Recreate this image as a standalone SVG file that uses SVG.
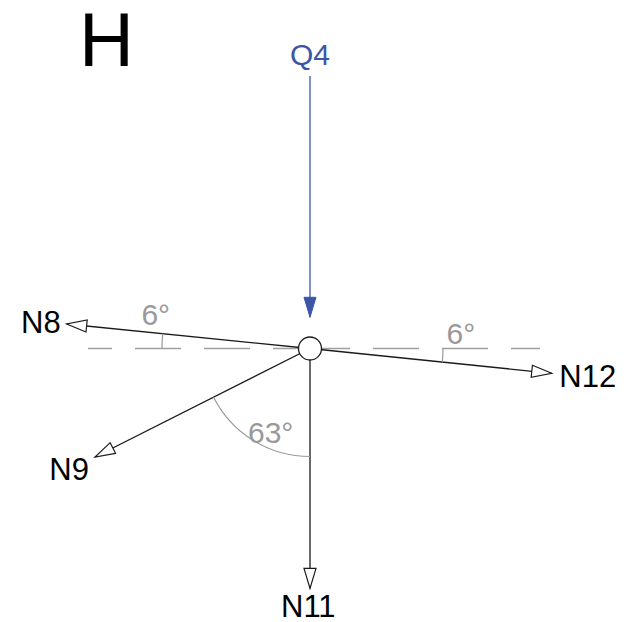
<svg xmlns="http://www.w3.org/2000/svg" width="633" height="622" viewBox="0 0 633 622">
<style>
text{font-family:"Liberation Sans",Arial,sans-serif;font-size:30px}
.lbl{fill:#000}
.node{font-size:31px}
.ang{fill:#999}
.blue{fill:#3d55a6}
.mem{stroke:#1a1a1a;stroke-width:1.3;fill:none}
.arc{stroke:#999;stroke-width:1.2;fill:none}
.dash{stroke:#a0a0a0;stroke-width:1.5;stroke-dasharray:46 23;fill:none}
</style>
<defs>
<marker id="open" markerUnits="userSpaceOnUse" markerWidth="22" markerHeight="14" refX="20" refY="6" orient="auto" overflow="visible">
<path d="M0,0 L20,6 L0,12 Z" fill="#fff" stroke="#1a1a1a" stroke-width="1.2"/>
</marker>
<marker id="fill" markerUnits="userSpaceOnUse" markerWidth="22" markerHeight="14" refX="20" refY="6" orient="auto" overflow="visible">
<path d="M0,0 L20,6 L0,12 Z" fill="#3d55a6" stroke="#3d55a6" stroke-width="1"/>
</marker>
</defs>
<g id="title"><text x="79" y="66" style="font-size:76px" class="lbl">H</text></g>
<g id="reference">
<line class="dash" x1="319" y1="348.5" x2="88" y2="348.5"/>
<line class="dash" x1="304" y1="348.5" x2="540" y2="348.5"/>
</g>
<g id="connectors">
<line class="mem" x1="310" y1="348.5" x2="66.7" y2="324" marker-end="url(#open)"/>
<line class="mem" x1="310" y1="348.5" x2="551.7" y2="373.3" marker-end="url(#open)"/>
<line class="mem" x1="310" y1="348.5" x2="95" y2="457" marker-end="url(#open)"/>
<line class="mem" x1="310" y1="348.5" x2="310" y2="588.3" marker-end="url(#open)"/>
<line x1="310" y1="76" x2="310" y2="317.3" stroke="#3d55a6" stroke-width="1.3" marker-end="url(#fill)"/>
</g>
<g id="angles">
<path class="arc" d="M162,348.5 A148,148 0 0 1 162.74,333.67"/>
<path class="arc" d="M443,348.5 A133,133 0 0 1 442.3,362.1"/>
<path class="arc" d="M213.6,397.2 A108,108 0 0 0 310,456.5"/>
<text class="ang" x="141.4" y="325">6°</text>
<text class="ang" x="446.5" y="344">6°</text>
<text class="ang" x="248" y="443">63°</text>
</g>
<g id="node-center"><circle cx="310" cy="348.5" r="11.5" fill="#fff" stroke="#1a1a1a" stroke-width="1.3"/></g>
<g id="node-Q4"><text class="blue" x="290" y="65">Q4</text></g>
<g id="node-N8"><text class="lbl node" x="21" y="333.3">N8</text></g>
<g id="node-N12"><text class="lbl node" x="559.3" y="386.7">N12</text></g>
<g id="node-N9"><text class="lbl node" x="49.3" y="480">N9</text></g>
<g id="node-N11"><text class="lbl node" x="281" y="617.3">N11</text></g>
</svg>
